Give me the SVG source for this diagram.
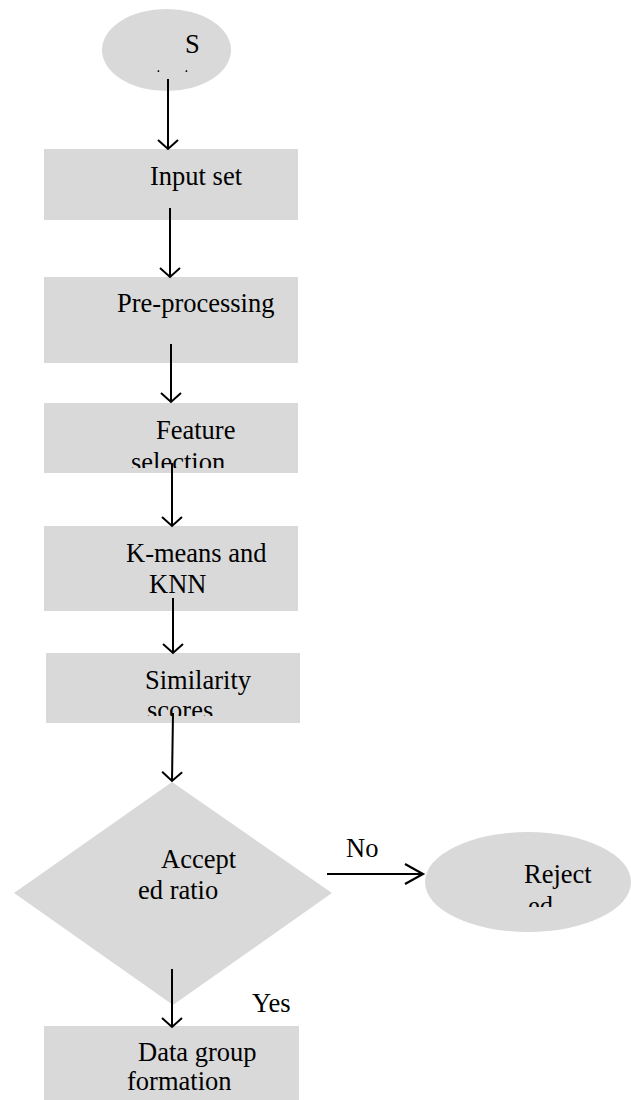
<svg xmlns="http://www.w3.org/2000/svg" width="631" height="1100" viewBox="0 0 631 1100">
<style>
.shape{fill:#d9d9d9;stroke:none}
.t{font-family:"Liberation Serif","Times New Roman",serif;font-size:26.5px;fill:#000}
.conn{stroke:#000;stroke-width:2;fill:none}
</style>
<defs>
<marker id="arr" markerUnits="userSpaceOnUse" orient="auto" markerWidth="24" markerHeight="24" viewBox="-12 -12 24 24" refX="0" refY="0" overflow="visible">
<path d="M-9,-10 L0,0 L-9,10" fill="none" stroke="#000" stroke-width="2"/>
</marker>
<marker id="arrH" markerUnits="userSpaceOnUse" orient="auto" markerWidth="24" markerHeight="24" viewBox="-12 -12 24 24" refX="0" refY="0" overflow="visible">
<path d="M-18,-10 L0,0 L-18,10" fill="none" stroke="#000" stroke-width="2.2"/>
</marker>
<clipPath id="cStart"><rect x="0" y="0" width="631" height="72"/></clipPath>
<clipPath id="cFeat"><rect x="0" y="400" width="631" height="68"/></clipPath>
<clipPath id="cSim"><rect x="0" y="650" width="631" height="66"/></clipPath>
<clipPath id="cRej"><rect x="0" y="830" width="631" height="77"/></clipPath>
</defs>
<rect width="631" height="1100" fill="#fff"/>
<g id="start">
<ellipse class="shape" cx="166.5" cy="50" rx="64.5" ry="41"/>
<g clip-path="url(#cStart)">
<text class="t" x="185" y="53">S</text>
<text class="t" x="155" y="86">tart</text>
</g>
</g>
<g id="input">
<rect class="shape" x="44" y="149" width="254" height="71"/>
<text class="t" x="150" y="185">Input set</text>
</g>
<g id="preprocessing">
<rect class="shape" x="44" y="277" width="254" height="86"/>
<text class="t" x="117" y="312">Pre-processing</text>
</g>
<g id="feature">
<rect class="shape" x="44" y="403" width="254" height="70"/>
<g clip-path="url(#cFeat)">
<text class="t" x="156" y="439">Feature</text>
<text class="t" x="131" y="471">selection</text>
</g>
</g>
<g id="kmeans">
<rect class="shape" x="44" y="526" width="254" height="85"/>
<text class="t" x="126" y="562">K-means and</text>
<text class="t" x="149" y="593">KNN</text>
</g>
<g id="similarity">
<rect class="shape" x="46" y="653" width="254" height="70"/>
<g clip-path="url(#cSim)">
<text class="t" x="145" y="689">Similarity</text>
<text class="t" x="147" y="719">scores</text>
</g>
</g>
<g id="decision">
<polygon class="shape" points="172,782 332,893 173,1005 14,893"/>
<text class="t" x="161" y="868">Accept</text>
<text class="t" x="138" y="899">ed ratio</text>
</g>
<g id="rejected">
<ellipse class="shape" cx="528" cy="882" rx="103" ry="50"/>
<g clip-path="url(#cRej)">
<text class="t" x="524" y="883">Reject</text>
<text class="t" x="528" y="915">ed</text>
</g>
</g>
<g id="datagroup">
<rect class="shape" x="44" y="1026" width="255" height="74"/>
<text class="t" x="138" y="1061">Data group</text>
<text class="t" x="127" y="1090">formation</text>
</g>
<g id="connectors">
<line class="conn" x1="168" y1="79" x2="168" y2="149" marker-end="url(#arr)"/>
<line class="conn" x1="170" y1="208" x2="170" y2="277" marker-end="url(#arr)"/>
<line class="conn" x1="171" y1="344" x2="171" y2="402" marker-end="url(#arr)"/>
<line class="conn" x1="172" y1="463" x2="172" y2="526" marker-end="url(#arr)"/>
<line class="conn" x1="173" y1="598" x2="173" y2="653" marker-end="url(#arr)"/>
<line class="conn" x1="173" y1="713" x2="172" y2="781" marker-end="url(#arr)"/>
<line class="conn" x1="327" y1="874" x2="423" y2="874" stroke-width="2.2" marker-end="url(#arrH)"/>
<line class="conn" x1="172" y1="969" x2="172" y2="1027" marker-end="url(#arr)"/>
<text class="t" x="346" y="857">No</text>
<text class="t" x="252" y="1012">Yes</text>
</g>
</svg>
